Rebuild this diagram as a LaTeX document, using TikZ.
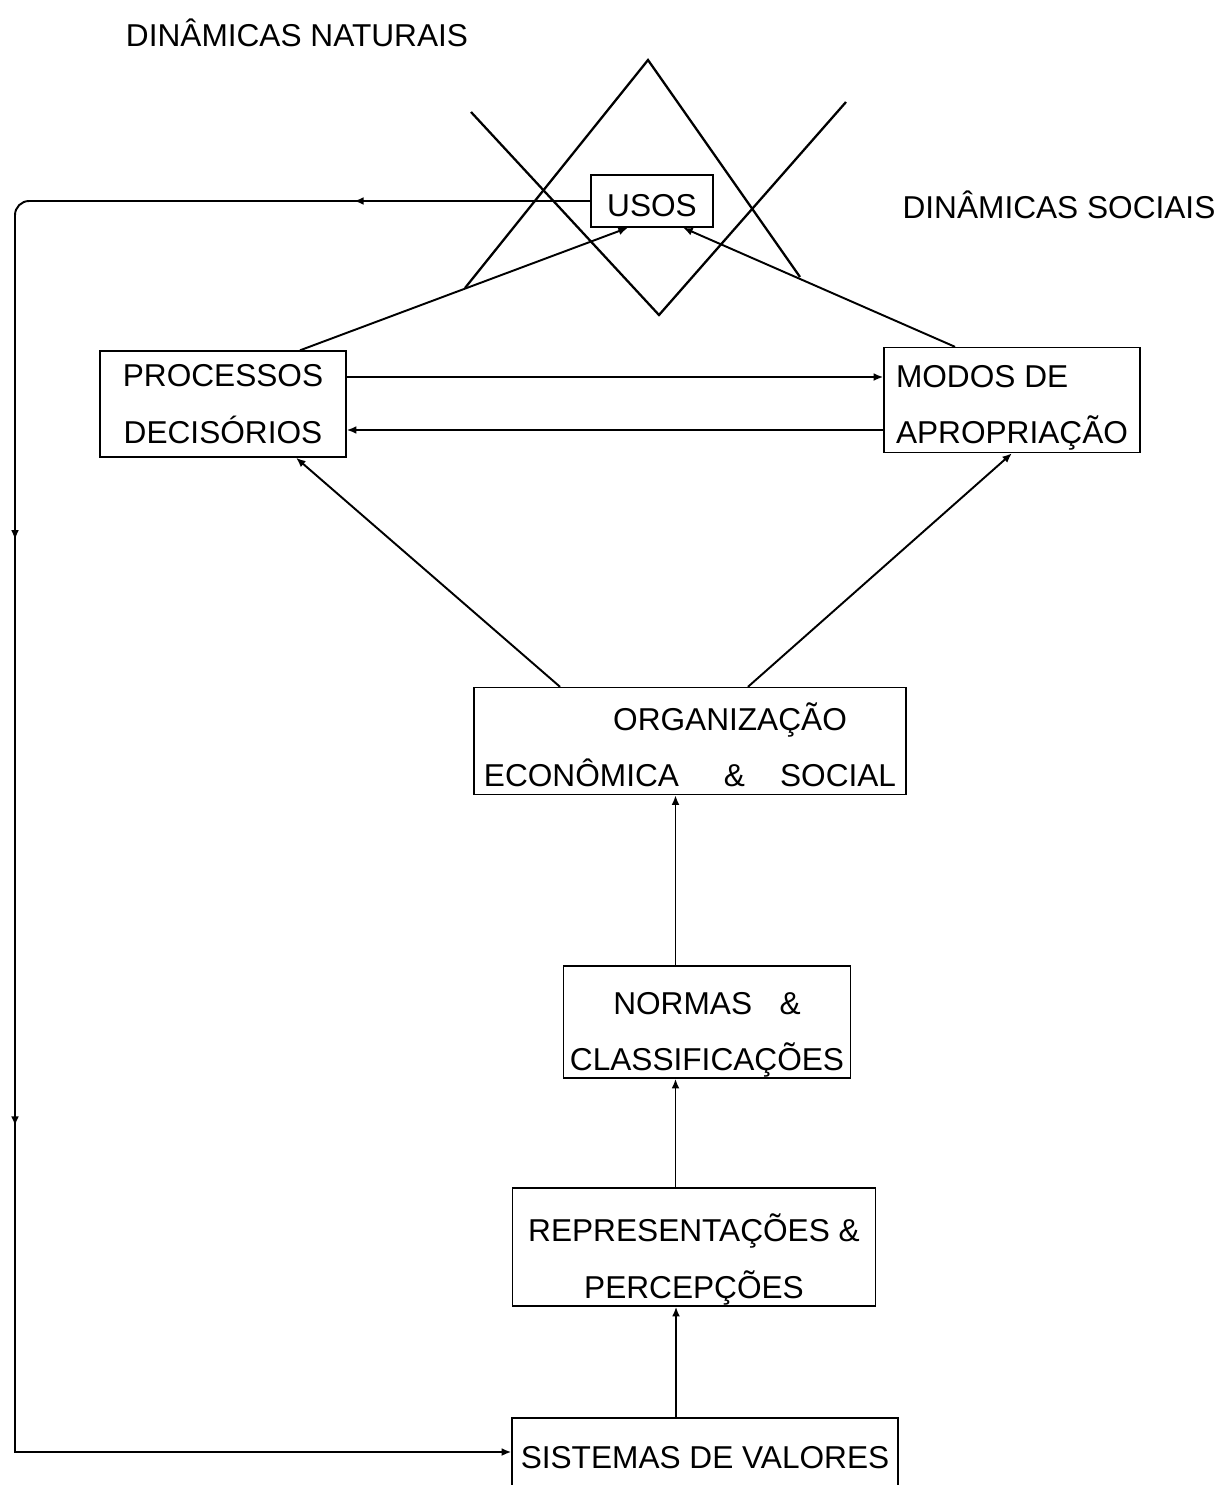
\documentclass[tikz,border=0pt]{standalone}
\usepackage{fontspec}
\setmainfont{Liberation Sans}
\usetikzlibrary{arrows.meta,calc,decorations.markings}
\begin{document}
\begin{tikzpicture}[x=0.02cm, y=-0.02cm, every node/.style={font=\fontsize{18}{32}\selectfont, inner sep=0pt}, blk/.style={draw, line width=0.8pt, align=center}, lnk/.style={line width=1.1pt, -{Latex[length=5.5pt,width=4.5pt]}}, xline/.style={line width=1.3pt}]
			\useasboundingbox (0,0) rectangle (1224,1485);
			\node (natur) at (297,33) {DINÂMICAS NATURAIS};
			\node (soc) at (1059,205) {DINÂMICAS SOCIAIS};
			\draw[xline] (465,288) -- (648,60) -- (800,277);
			\draw[xline] (471,112) -- (659,315) -- (846,102);
			\node[blk, fill=white, minimum width=2.44cm, minimum height=1.04cm] (usos) at (652,201) {\rule{0pt}{17.6pt}USOS};
			\node[blk, minimum width=4.92cm, minimum height=2.12cm] (proc) at (223,404) {PROCESSOS\\DECISÓRIOS};
			\node[blk, align=left, minimum width=5.12cm, minimum height=2.1cm] (modos) at (1012,400) {\rule{0pt}{21.6pt}MODOS DE\\APROPRIAÇÃO};
			\node[blk, minimum width=8.64cm, minimum height=2.14cm] (org) at (690,741) {\rule{0pt}{20.5pt}\hspace*{1.6cm}ORGANIZAÇÃO\\ECONÔMICA\hspace{0.9cm}\&\hspace{0.7cm}SOCIAL};
			\node[blk, minimum width=5.74cm, minimum height=2.24cm] (normas) at (707,1022) {\rule{0pt}{26.7pt}NORMAS\hspace{0.55cm}\&\\CLASSIFICAÇÕES};
			\node[blk, minimum width=7.26cm, minimum height=2.36cm] (repr) at (694,1247) {\rule{0pt}{30pt}REPRESENTAÇÕES \&\\PERCEPÇÕES};
			\node[blk, minimum width=7.72cm, minimum height=1.6cm] (sis) at (705,1458) {SISTEMAS DE VALORES};
			\coordinate (bl) at (15,1452);
			\draw[lnk, postaction={decorate}, decoration={markings, mark=at position 0.102 with {\arrow{Latex[length=5.5pt,width=4.5pt]}}, mark=at position 0.392 with {\arrow{Latex[length=5.5pt,width=4.5pt]}}, mark=at position 0.645 with {\arrow{Latex[length=5.5pt,width=4.5pt]}}}] (usos.west) [rounded corners=8pt] -- (usos.west -| bl) [sharp corners] -- (bl) -- (bl -| sis.west);
			\draw[lnk] ([xshift=1.54cm]proc.north) -- ([xshift=-0.48cm]usos.south);
			\draw[lnk] ([xshift=-1.14cm]modos.north) -- ([xshift=0.62cm]usos.south);
			\draw[lnk] ([yshift=0.54cm]proc.east) -- ([yshift=0.54cm]proc.east -| modos.west);
			\draw[lnk] ([yshift=-0.6cm]modos.west) -- ([yshift=-0.6cm]modos.west -| proc.east);
			\draw[lnk] ([xshift=-2.6cm]org.north) -- ([xshift=1.46cm]proc.south);
			\draw[lnk] ([xshift=1.16cm]org.north) -- (modos.south);
			\draw[lnk] ([xshift=-0.63cm]normas.north) -- ([xshift=-0.63cm]normas.north |- org.south);
			\draw[lnk] ([xshift=-0.37cm]repr.north) -- ([xshift=-0.37cm]repr.north |- normas.south);
			\draw[lnk] ([xshift=-0.58cm]sis.north) -- ([xshift=-0.58cm]sis.north |- repr.south);
		\end{tikzpicture}
\end{document}
